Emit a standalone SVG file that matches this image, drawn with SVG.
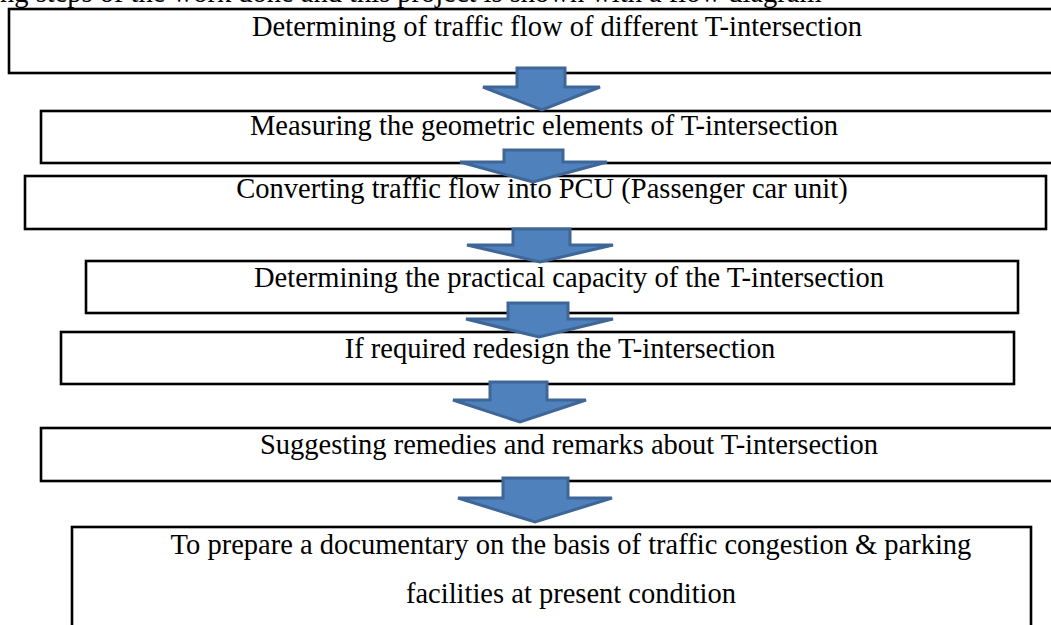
<svg xmlns="http://www.w3.org/2000/svg" width="1051" height="625" viewBox="0 0 1051 625">
<style>
.box{fill:#fff;stroke:#000;stroke-width:2.6}
.t{font-family:"Liberation Serif","Times New Roman",serif;font-size:28.5px;fill:#000;text-anchor:middle}
.arr{fill:#4F81BD;stroke:#3E6697;stroke-width:3;stroke-linejoin:miter}
</style>
<rect width="1051" height="625" fill="#fff"/>
<text x="0" y="2" style="font-family:'Liberation Serif','Times New Roman',serif;font-size:28.5px;fill:#000">ng steps of the work done and this project is shown with a flow diagram</text>
<g id="n1"><rect class="box" x="9" y="9" width="1060" height="64"/><text class="t" x="557" y="36">Determining of traffic flow of different T-intersection</text></g>
<g id="n2"><rect class="box" x="41" y="111" width="1030" height="52"/><text class="t" x="544" y="135">Measuring the geometric elements of T-intersection</text></g>
<g id="n3"><rect class="box" x="25" y="176" width="1021" height="53"/><text class="t" x="542" y="198">Converting traffic flow into PCU (Passenger car unit)</text></g>
<g id="n4"><rect class="box" x="86" y="261" width="932" height="52"/><text class="t" x="569" y="287">Determining the practical capacity of the T-intersection</text></g>
<g id="n5"><rect class="box" x="61" y="332" width="953" height="52"/><text class="t" x="560" y="358">If required redesign the T-intersection</text></g>
<g id="n6"><rect class="box" x="41" y="428" width="1030" height="53"/><text class="t" x="569" y="454">Suggesting remedies and remarks about T-intersection</text></g>
<g id="n7"><rect class="box" x="72" y="527" width="959" height="120"/><text class="t" x="571" y="554">To prepare a documentary on the basis of traffic congestion &amp; parking</text><text class="t" x="571" y="603">facilities at present condition</text></g>
<g id="connectors">
<polygon class="arr" points="517,68 565,68 565,87 600,87 542,110 483,87 517,87"/>
<polygon class="arr" points="504,150 563,150 563,162 607,162 533,182 460,162 504,162"/>
<polygon class="arr" points="513,229 570,229 570,245 613,245 540,262 467,245 513,245"/>
<polygon class="arr" points="508,303 568,303 568,319 613,319 539,337 466,319 508,319"/>
<polygon class="arr" points="490,382 547,382 547,400 586,400 520,422 453,400 490,400"/>
<polygon class="arr" points="503,478 568,478 568,498 612,498 535,522 458,498 503,498"/>
</g>
</svg>
